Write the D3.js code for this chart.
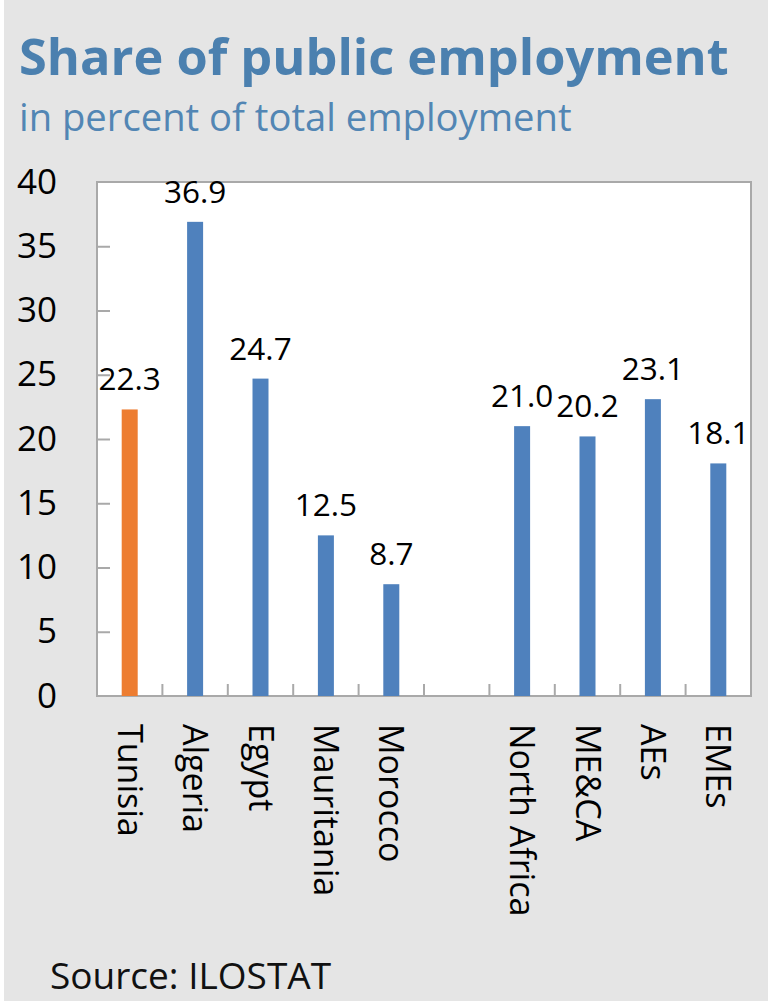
<!DOCTYPE html>
<html><head><meta charset="utf-8">
<script src="https://cdn.jsdelivr.net/npm/d3@7"></script>
<style>body{margin:0;background:#fff;} text{font-family:"Open Sans","Noto Sans",sans-serif;}</style>
</head><body>
<svg id="c" width="768" height="1006"></svg>
<script>
const categories = ["Tunisia","Algeria","Egypt","Mauritania","Morocco","","North Africa","ME&CA","AEs","EMEs"];
const values = [22.3, 36.9, 24.7, 12.5, 8.7, null, 21.0, 20.2, 23.1, 18.1];
const highlight = ["Tunisia"];
const yTicks = [0,5,10,15,20,25,30,35,40];

const svg = d3.select("#c");
svg.append("rect").attr("x",4).attr("y",0).attr("width",764).attr("height",1001).attr("fill","#e5e5e5");

svg.append("text").attr("x",19).attr("y",75).attr("fill","#4b80af")
  .attr("font-size",50.5).attr("font-weight",700).text("Share of public employment");
svg.append("text").attr("x",19).attr("y",131).attr("fill","#5286b4")
  .attr("font-size",38.2).text("in percent of total employment");
svg.append("text").attr("x",50).attr("y",989).attr("fill","#111")
  .attr("font-size",37).text("Source: ILOSTAT");

const L=97, R=751, T=182, B=696;
const keys = categories.map((c,i)=>c===""?"_blank"+i:c);
const x = d3.scaleBand().domain(keys).range([L,R]).padding(0);
const y = d3.scaleLinear().domain([0,40]).range([B,T]);

svg.append("rect").attr("x",L).attr("y",T).attr("width",R-L).attr("height",B-T)
  .attr("fill","#fff").attr("stroke","#a9a9a9").attr("stroke-width",2);

// y axis
const ya = svg.append("g").attr("transform",`translate(${L},0)`)
  .call(d3.axisLeft(y).tickValues(yTicks).tickSize(-13).tickPadding(40));
ya.select(".domain").remove();
ya.selectAll(".tick line").attr("stroke","#a9a9a9").attr("stroke-width",2)
  .filter(d=>d===0||d===40).remove();
ya.selectAll(".tick text").attr("font-size",35).attr("fill","#000")
  .attr("font-family","'Open Sans','Noto Sans',sans-serif");

// x separators
const bw = x.bandwidth();
svg.append("g").selectAll("line").data(keys.slice(1)).join("line")
  .attr("x1",d=>x(d)).attr("x2",d=>x(d)).attr("y1",B).attr("y2",B-12)
  .attr("stroke","#a9a9a9").attr("stroke-width",2);

// bars
const data = keys.map((k,i)=>({k, c:categories[i], v:values[i]})).filter(d=>d.v!==null);
const barW = 16;
svg.append("g").selectAll("rect").data(data).join("rect")
  .attr("x",d=>x(d.k)+bw/2-barW/2).attr("width",barW)
  .attr("y",d=>y(d.v)).attr("height",d=>B-y(d.v))
  .attr("fill",d=>highlight.includes(d.c)?"#ed7d31":"#4f81bd");
svg.append("g").selectAll("text").data(data).join("text")
  .attr("x",d=>x(d.k)+bw/2).attr("y",d=>y(d.v)-19)
  .attr("text-anchor","middle").attr("font-size",31.5).attr("fill","#000")
  .text(d=>d.v.toFixed(1));

// x axis labels
const xa = svg.append("g").attr("transform",`translate(0,${B})`)
  .call(d3.axisBottom(x).tickSize(0).tickFormat(k=>k.startsWith("_blank")?"":k));
xa.select(".domain").remove();
xa.selectAll(".tick text").attr("font-size",34).attr("fill","#000")
  .attr("font-family","'Open Sans','Noto Sans',sans-serif")
  .attr("text-anchor","start").attr("transform","rotate(90)")
  .attr("x",28).attr("y",0).attr("dy","0.35em");
</script>
</body></html>
